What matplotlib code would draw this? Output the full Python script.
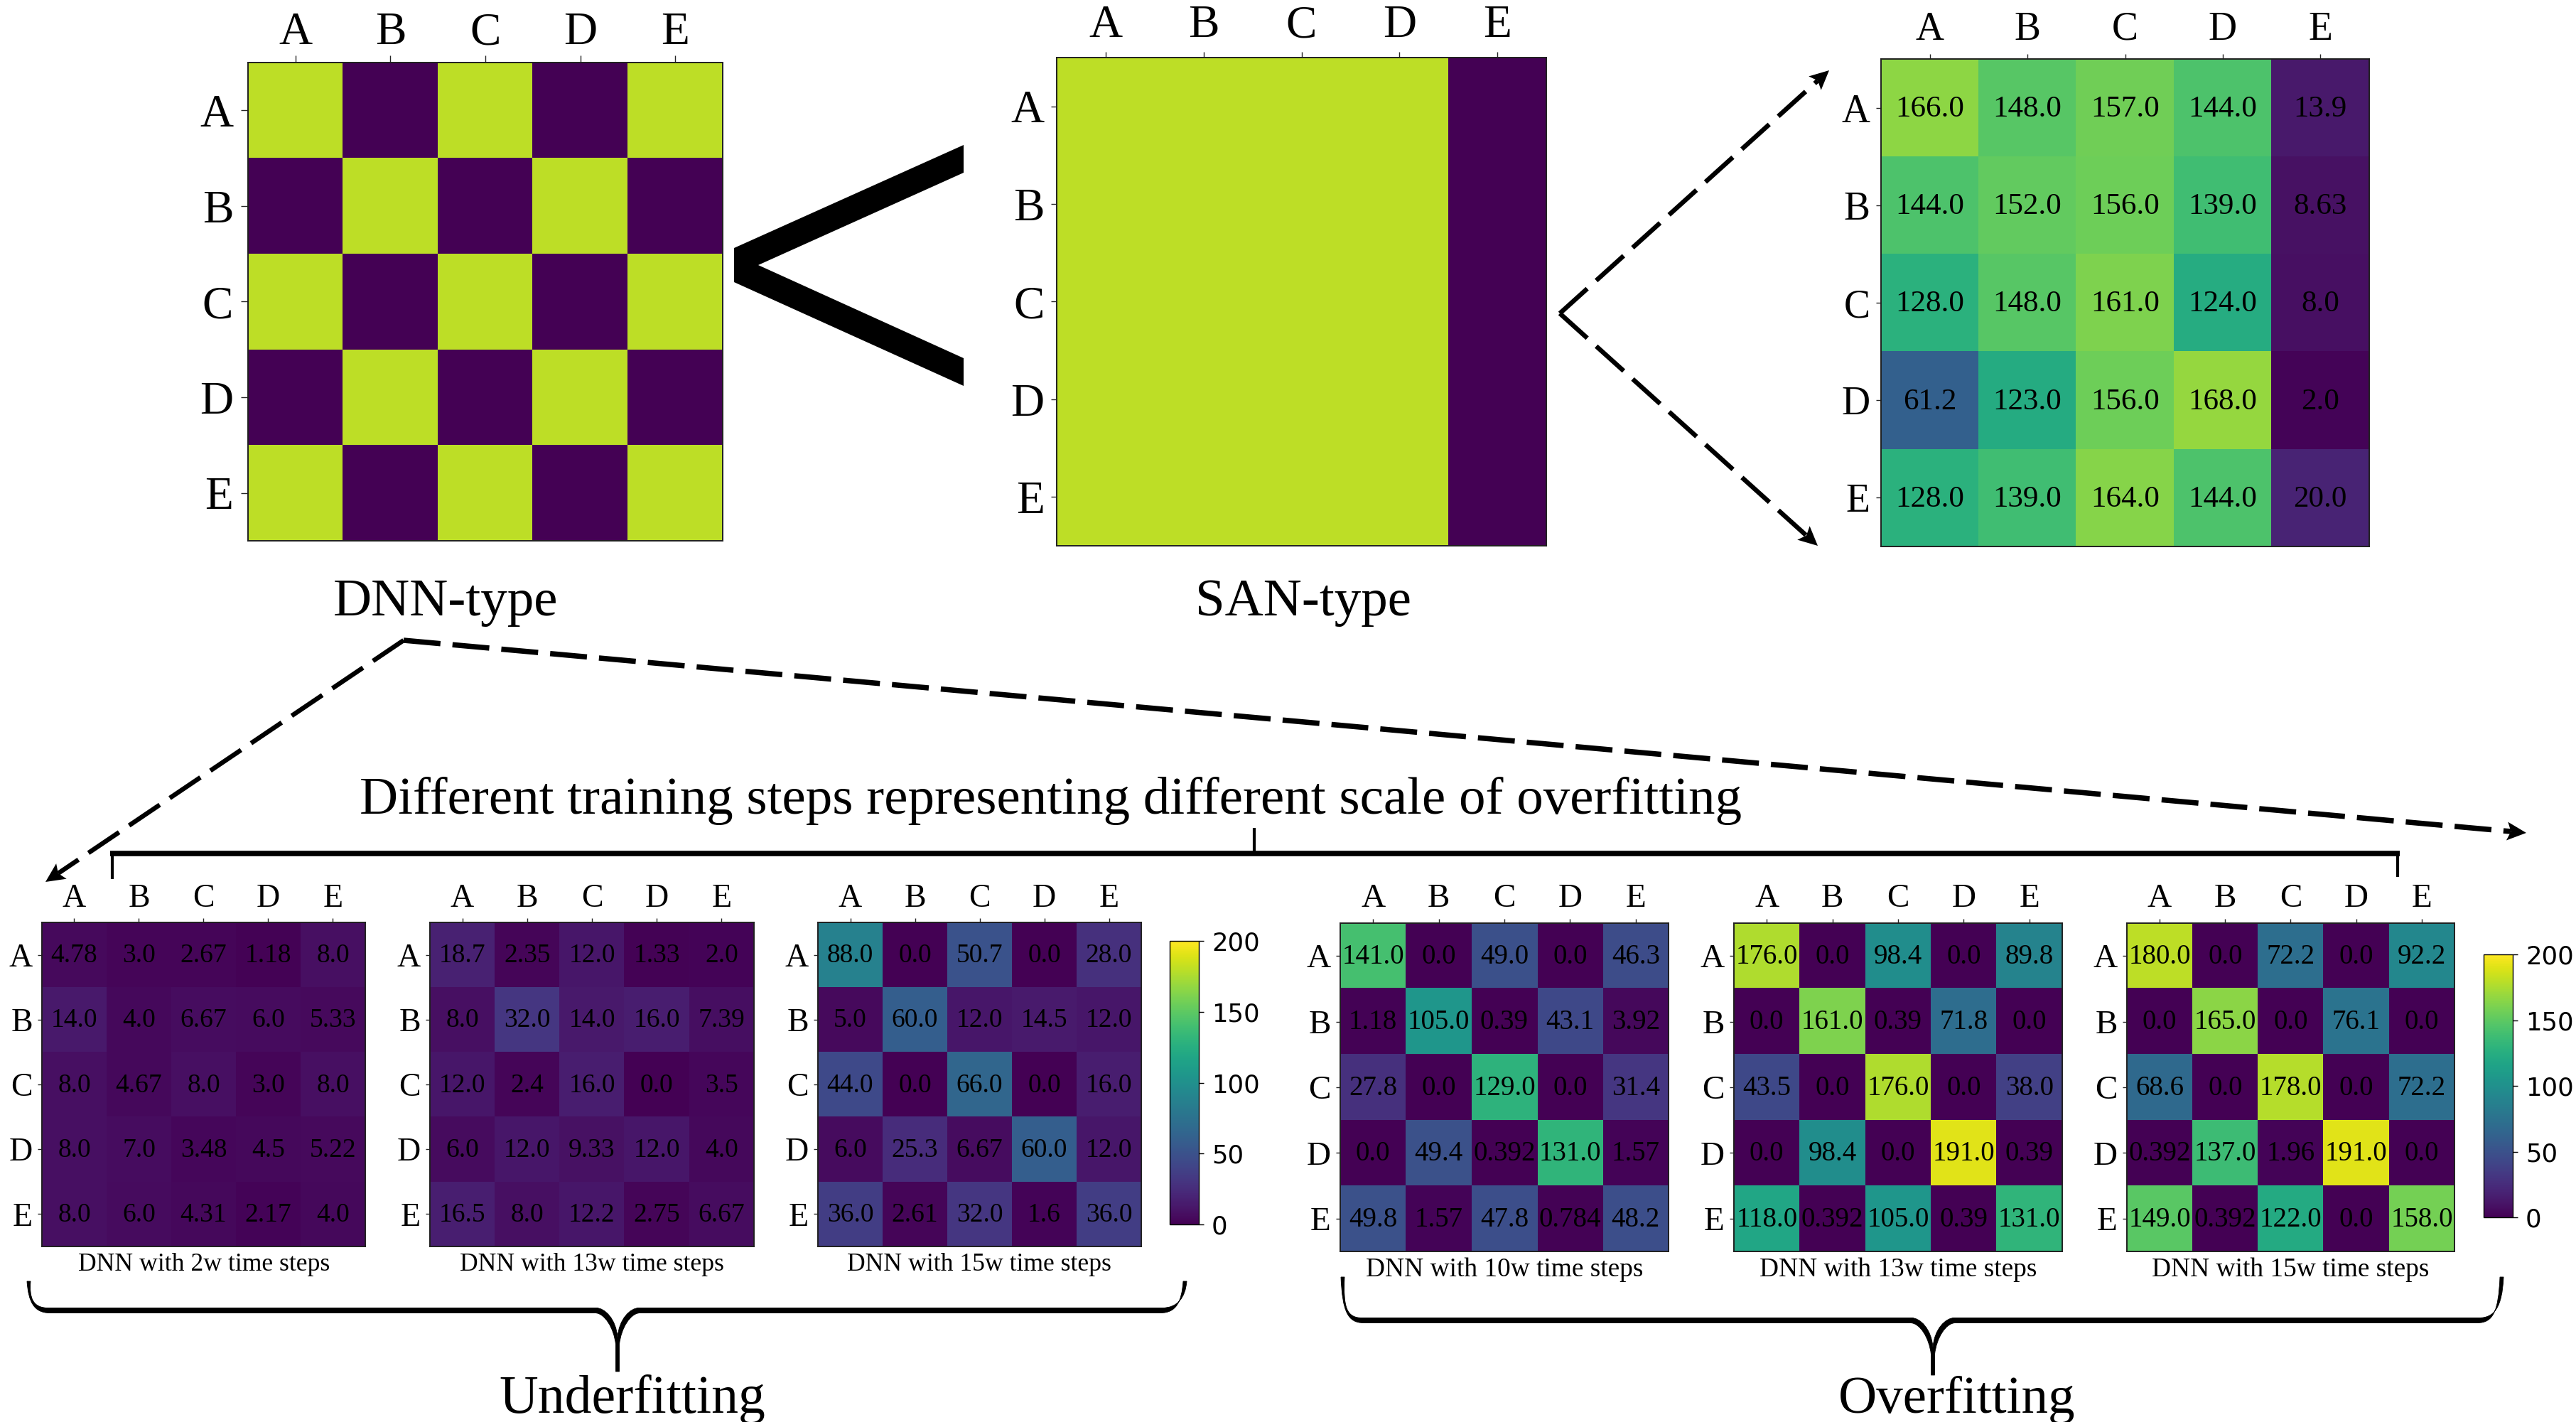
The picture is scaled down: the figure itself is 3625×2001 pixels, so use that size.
"""Heatmaps of DNN-type / SAN-type patterns and training-step comparison."""
import numpy as np
import matplotlib
matplotlib.use("Agg")
import matplotlib.pyplot as plt
from matplotlib.patches import PathPatch, Polygon
from matplotlib.path import Path

plt.rcParams["font.family"] = ["Liberation Serif", "DejaVu Serif"]

W, H = 3625, 2001
DPI = 100

LABELS = ["A", "B", "C", "D", "E"]
CBAR_TICKS = [0, 50, 100, 150, 200]

# ── data ────────────────────────────────────────────────────────────────────
DNN_TYPE = [[180, 0, 180, 0, 180],
            [0, 180, 0, 180, 0],
            [180, 0, 180, 0, 180],
            [0, 180, 0, 180, 0],
            [180, 0, 180, 0, 180]]
SAN_TYPE = [[180, 180, 180, 180, 0]] * 5
SAN_VALUES = [[166.0, 148.0, 157.0, 144.0, 13.9],
              [144.0, 152.0, 156.0, 139.0, 8.63],
              [128.0, 148.0, 161.0, 124.0, 8.0],
              [61.2, 123.0, 156.0, 168.0, 2.0],
              [128.0, 139.0, 164.0, 144.0, 20.0]]
UNDER_2W = [[4.78, 3.0, 2.67, 1.18, 8.0],
            [14.0, 4.0, 6.67, 6.0, 5.33],
            [8.0, 4.67, 8.0, 3.0, 8.0],
            [8.0, 7.0, 3.48, 4.5, 5.22],
            [8.0, 6.0, 4.31, 2.17, 4.0]]
UNDER_13W = [[18.7, 2.35, 12.0, 1.33, 2.0],
             [8.0, 32.0, 14.0, 16.0, 7.39],
             [12.0, 2.4, 16.0, 0.0, 3.5],
             [6.0, 12.0, 9.33, 12.0, 4.0],
             [16.5, 8.0, 12.2, 2.75, 6.67]]
UNDER_15W = [[88.0, 0.0, 50.7, 0.0, 28.0],
             [5.0, 60.0, 12.0, 14.5, 12.0],
             [44.0, 0.0, 66.0, 0.0, 16.0],
             [6.0, 25.3, 6.67, 60.0, 12.0],
             [36.0, 2.61, 32.0, 1.6, 36.0]]
OVER_10W = [[141.0, 0.0, 49.0, 0.0, 46.3],
            [1.18, 105.0, 0.39, 43.1, 3.92],
            [27.8, 0.0, 129.0, 0.0, 31.4],
            [0.0, 49.4, 0.392, 131.0, 1.57],
            [49.8, 1.57, 47.8, 0.784, 48.2]]
OVER_13W = [[176.0, 0.0, 98.4, 0.0, 89.8],
            [0.0, 161.0, 0.39, 71.8, 0.0],
            [43.5, 0.0, 176.0, 0.0, 38.0],
            [0.0, 98.4, 0.0, 191.0, 0.39],
            [118.0, 0.392, 105.0, 0.39, 131.0]]
OVER_15W = [[180.0, 0.0, 72.2, 0.0, 92.2],
            [0.0, 165.0, 0.0, 76.1, 0.0],
            [68.6, 0.0, 178.0, 0.0, 72.2],
            [0.392, 137.0, 1.96, 191.0, 0.0],
            [149.0, 0.392, 122.0, 0.0, 158.0]]
CAPTIONS = ["DNN with 2w time steps", "DNN with 13w time steps", "DNN with 15w time steps",
            "DNN with 10w time steps", "DNN with 13w time steps", "DNN with 15w time steps"]


def add_rect(fig, x0, y0, x1, y1):
    """Axes from pixel box (y measured from the top of the image)."""
    return fig.add_axes([x0 / W, 1 - y1 / H, (x1 - x0) / W, (y1 - y0) / H])


def fmt(v):
    s = f"{v:.3g}"
    return s if "." in s else f"{float(s):.1f}"


def heatmap(fig, box, values, tick_fs, cell_fs=None, top_pad=4.5, left_pad=5, tick_len=4.5):
    ax = add_rect(fig, *box)
    im = ax.imshow(np.array(values, dtype=float), cmap="viridis", vmin=0, vmax=200,
                   aspect="auto", interpolation="nearest")
    ax.xaxis.tick_top()
    ax.set_xticks(range(5))
    ax.set_yticks(range(5))
    ax.set_xticklabels(LABELS, fontsize=tick_fs)
    ax.set_yticklabels(LABELS, fontsize=tick_fs)
    ax.tick_params(axis="x", length=tick_len, width=1.0, pad=top_pad, color="0.15")
    ax.tick_params(axis="y", length=tick_len, width=1.0, pad=left_pad, color="0.15")
    for s in ax.spines.values():
        s.set_linewidth(1.4)
        s.set_color("0.12")
    if cell_fs:
        for i, row in enumerate(values):
            for j, v in enumerate(row):
                ax.text(j, i + 0.015, fmt(v), ha="center", va="center", fontsize=cell_fs)
    return im


def colorbar(fig, im, box):
    cax = add_rect(fig, *box)
    cb = fig.colorbar(im, cax=cax, ticks=CBAR_TICKS)
    cb.ax.tick_params(labelsize=25.5, length=5, width=1.0, pad=8)
    for t in cb.ax.get_yticklabels():
        t.set_fontfamily("DejaVu Sans")
    cb.outline.set_linewidth(1.0)


def dashed_arrow(ov, start, tip, lw_px=6.5, head_len=27, head_half=13):
    start, tip = np.array(start, float), np.array(tip, float)
    d = (tip - start) / np.linalg.norm(tip - start)
    n = np.array([-d[1], d[0]])
    lw = lw_px * 72 / DPI
    # dash pattern is in units of linewidth: ~52 px on, ~17 px off
    end = tip - d * head_len * 0.8
    ov.plot([start[0], end[0]], [start[1], end[1]], color="k", lw=lw,
            linestyle=(0, (52 / lw_px, 17 / lw_px)), dash_capstyle="butt",
            solid_capstyle="butt")
    base = tip - d * head_len
    notch = tip - d * head_len * 0.8
    ov.add_patch(Polygon([tip, base + n * head_half, notch, base - n * head_half],
                         closed=True, fc="k", ec="none"))


def brace(ov, x0, xm, x1, y_top, y_bar, y_tip, cusp=32):
    """Curly brace as one filled outline: thin at the ends, thick along the bar."""
    t = 3.5
    M, L, C = Path.MOVETO, Path.LINETO, Path.CURVE4
    verts = [(x0, y_top),
             (x0 + 2, y_bar - 12), (x0 + 10, y_bar + t), (x0 + 32, y_bar + t),
             (xm - cusp, y_bar + t),
             (xm - cusp + 14, y_bar + t), (xm - 5, y_bar + 25), (xm - 2.5, y_bar + 48),
             (xm - 2.5, y_tip), (xm + 2.5, y_tip), (xm + 2.5, y_bar + 48),
             (xm + 5, y_bar + 25), (xm + cusp - 14, y_bar + t), (xm + cusp, y_bar + t),
             (x1 - 32, y_bar + t),
             (x1 - 10, y_bar + t), (x1 - 2, y_bar - 12), (x1, y_top),
             (x1 + 5, y_top),
             (x1 + 3, y_bar - 18), (x1 - 8, y_bar - t), (x1 - 30, y_bar - t),
             (xm + cusp - 2, y_bar - t),
             (xm + cusp - 14, y_bar - t), (xm + 2, y_bar + 12), (xm, y_bar + 38),
             (xm - 2, y_bar + 12), (xm - cusp + 14, y_bar - t), (xm - cusp + 2, y_bar - t),
             (x0 + 30, y_bar - t),
             (x0 + 8, y_bar - t), (x0 + 3, y_bar - 18), (x0 + 5, y_top),
             (x0, y_top)]
    codes = [M, C, C, C, L, C, C, C, L, L, L, C, C, C, L, C, C, C, L,
             C, C, C, L, C, C, C, C, C, C, L, C, C, C, L]
    ov.add_patch(PathPatch(Path(verts, codes), fc="k", ec="k", lw=0.6))


def main():
    fig = plt.figure(figsize=(W / DPI, H / DPI), dpi=DPI, facecolor="white")

    # ── top row ─────────────────────────────────────────────────────────────
    heatmap(fig, (349, 88, 1017, 761), DNN_TYPE, 47, top_pad=1.5, left_pad=8, tick_len=7)
    heatmap(fig, (1487, 81, 2176, 768), SAN_TYPE, 47, top_pad=4.5, left_pad=6.5, tick_len=6)
    heatmap(fig, (2647, 83, 3334, 769), SAN_VALUES, 40, cell_fs=31, top_pad=6, left_pad=6, tick_len=5)

    # ── bottom row ──────────────────────────────────────────────────────────
    y0, y1 = 1298, 1754
    for box, vals in [((59, y0, 514, y1), UNDER_2W),
                      ((605, y0, 1061, y1), UNDER_13W),
                      ((1151, y0, 1606, y1), UNDER_15W)]:
        im = heatmap(fig, box, vals, 33, cell_fs=27)
    colorbar(fig, im, (1646, 1324, 1687, 1723))

    y0, y1 = 1299, 1761
    for box, vals in [((1886, y0, 2348, y1), OVER_10W),
                      ((2440, y0, 2902, y1), OVER_13W),
                      ((2993, y0, 3454, y1), OVER_15W)]:
        im = heatmap(fig, box, vals, 34, cell_fs=28)
    colorbar(fig, im, (3495, 1343, 3536, 1713))

    # ── annotation layer, in image pixels ───────────────────────────────────
    ov = fig.add_axes([0, 0, 1, 1], zorder=5)
    ov.set_xlim(0, W)
    ov.set_ylim(H, 0)
    ov.axis("off")

    # big "<" between the two patterns
    ov.add_patch(Polygon([(1033, 349), (1356, 204), (1356, 243), (1067, 373),
                          (1356, 504), (1356, 543), (1033, 397)],
                         closed=True, fc="k", ec="none"))

    dashed_arrow(ov, (2195, 441), (2574, 99))
    dashed_arrow(ov, (2195, 441), (2558, 768))
    dashed_arrow(ov, (568, 901), (64, 1241))
    dashed_arrow(ov, (568, 901), (3555, 1172), lw_px=7.5)

    # square bracket over the bottom row
    ov.plot([158, 158], [1201, 1237], color="k", lw=3.0, solid_capstyle="butt")
    ov.plot([3374, 3374], [1201, 1234], color="k", lw=3.0, solid_capstyle="butt")
    ov.plot([155, 3377], [1201, 1201], color="k", lw=5.5, solid_capstyle="butt")
    ov.plot([1765, 1765], [1165, 1201], color="k", lw=3.0, solid_capstyle="butt")

    brace(ov, 38, 869, 1665, 1803, 1844, 1930)
    brace(ov, 1887, 2720, 3518, 1797, 1858, 1935)

    ov.text(627, 866, "DNN-type", fontsize=54, ha="center", va="baseline")
    ov.text(1834, 866, "SAN-type", fontsize=54, ha="center", va="baseline")
    ov.text(1478, 1145, "Different training steps representing different scale of overfitting",
            fontsize=54, ha="center", va="baseline")
    ov.text(890, 1988, "Underfitting", fontsize=54.5, ha="center", va="baseline")
    ov.text(2754, 1988, "Overfitting", fontsize=54, ha="center", va="baseline")

    cap_x = [287, 833, 1378, 2117, 2671, 3223]
    cap_y = [1788, 1788, 1788, 1796, 1796, 1796]
    cap_fs = [25.7, 25.7, 25.7, 26.9, 26.9, 26.9]
    for x, y, fs, cap in zip(cap_x, cap_y, cap_fs, CAPTIONS):
        ov.text(x, y, cap, fontsize=fs, ha="center", va="baseline")

    fig.savefig("out.png", dpi=DPI)
    plt.close(fig)


if __name__ == "__main__":
    main()
